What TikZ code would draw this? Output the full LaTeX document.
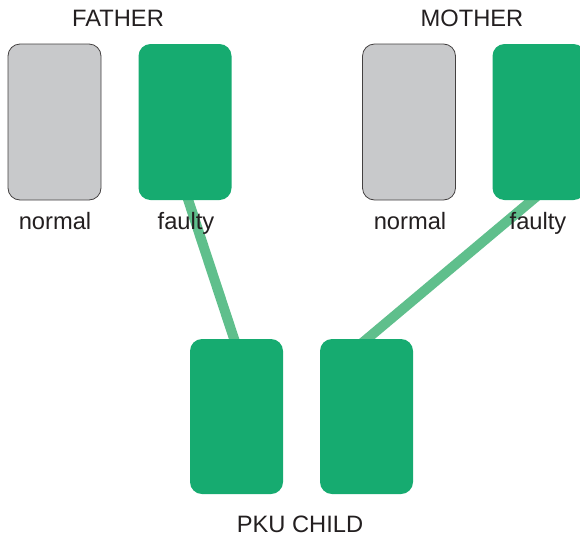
\documentclass[tikz,border=0pt]{standalone}
\usepackage{fontspec}
\setmainfont{Liberation Sans}
\usetikzlibrary{backgrounds}
\definecolor{boxgreen}{HTML}{16AB70}
\definecolor{linegreen}{HTML}{5FBF8C}
\definecolor{boxgray}{HTML}{C8C9CB}
\definecolor{txt}{HTML}{231F20}
\tikzset{
  gene/.style={rectangle, rounded corners=12pt, minimum width=93pt, minimum height=156pt, inner sep=0pt},
  normalbox/.style={gene, fill=boxgray, draw=txt!85, line width=0.8pt},
  faultybox/.style={gene, fill=boxgreen},
  lbl/.style={anchor=base, text=txt, font=\fontsize{23.7pt}{28pt}\selectfont, inner sep=0pt},
  inherit/.style={draw=linegreen, line width=10pt}
}
\begin{document}
\begin{tikzpicture}[x=1pt,y=-1pt]
\useasboundingbox (0,0) rectangle (580,536);
\node[normalbox] (fn) at (54.5,122) {};
\node[faultybox] (ff) at (185,122) {};
\node[normalbox] (mn) at (409,122) {};
\node[faultybox] (mf) at (539,122) {};
\node[faultybox, minimum height=155pt] (cl) at (236.5,416.5) {};
\node[faultybox, minimum height=155pt] (cr) at (366.5,416.5) {};
\node[lbl] (fat) at (118,26) {FATHER};
\node[lbl] (mot) at (472,26) {MOTHER};
\node[lbl] (fnl) at (55,229) {normal};
\node[lbl] (ffl) at (186,229) {faulty};
\node[lbl] (mnl) at (410,229) {normal};
\node[lbl] (mfl) at (538,229) {faulty};
\node[lbl] (child) at (300,532) {PKU CHILD};
\coordinate (a1) at (175,160);
\coordinate (a2) at (245,372);
\coordinate (b1) at (568,170);
\coordinate (b2) at (330,370);
\begin{scope}[on background layer]
\draw[inherit] (a1) -- (a2);
\draw[inherit] (b1) -- (b2);
\end{scope}
\end{tikzpicture}
\end{document}
